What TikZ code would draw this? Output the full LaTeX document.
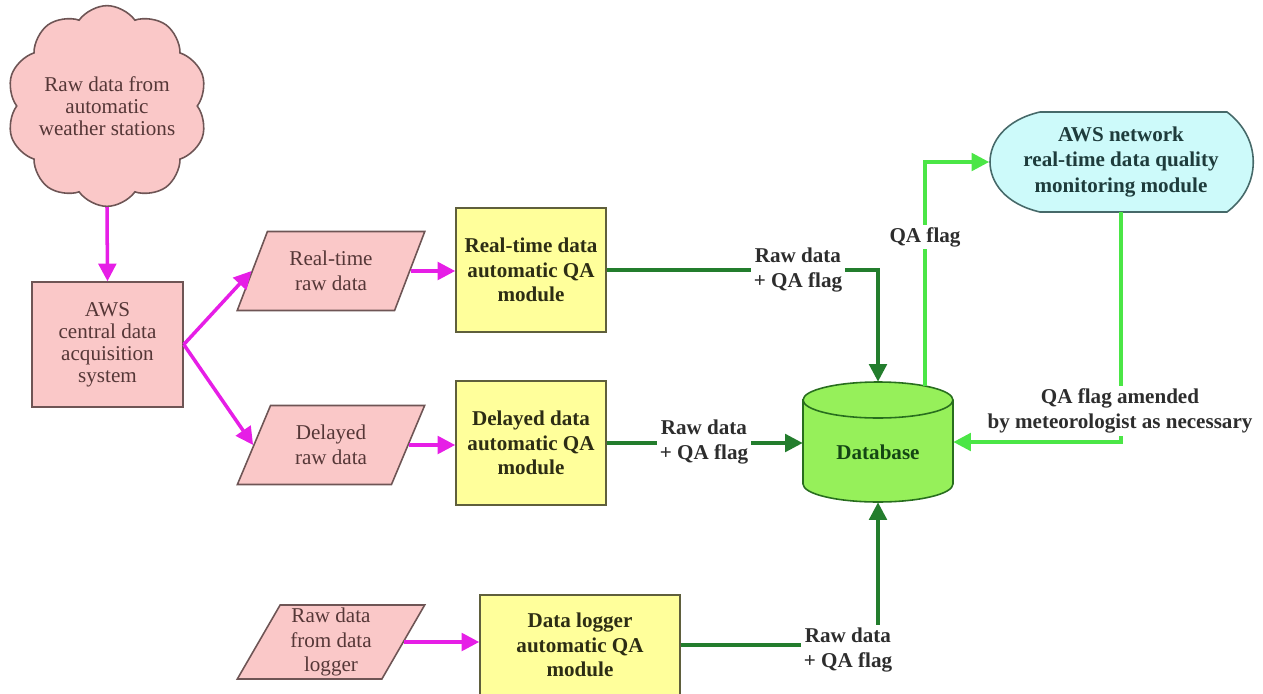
\documentclass[tikz,border=0pt]{standalone}
\usepackage{fontspec}
\setmainfont{Liberation Serif}
\usetikzlibrary{shapes.geometric,shapes.symbols,arrows.meta,calc}
\definecolor{pinkfill}{RGB}{250,200,200}
\definecolor{pinkline}{RGB}{110,85,85}
\definecolor{pinktext}{RGB}{85,55,55}
\definecolor{yfill}{RGB}{255,255,155}
\definecolor{yline}{RGB}{95,95,60}
\definecolor{ytext}{RGB}{45,45,20}
\definecolor{bfill}{RGB}{205,250,250}
\definecolor{bline}{RGB}{70,105,105}
\definecolor{btext}{RGB}{30,60,60}
\definecolor{dbfill}{RGB}{150,240,90}
\definecolor{dbline}{RGB}{40,110,30}
\definecolor{dbtext}{RGB}{20,70,20}
\definecolor{mag}{RGB}{230,30,230}
\definecolor{dgreen}{RGB}{35,125,45}
\definecolor{lgreen}{RGB}{75,230,70}
\definecolor{lbltext}{RGB}{45,45,45}
\begin{document}
\begin{tikzpicture}[x=0.02cm,y=-0.02cm,
  font=\fontsize{12}{14}\selectfont,
  pinkbox/.style={draw=pinkline,fill=pinkfill,line width=0.9pt,text=pinktext,align=center},
  para/.style={pinkbox,trapezium,trapezium left angle=63.4,trapezium right angle=116.6,
    trapezium stretches=true,minimum width=3.76cm,minimum height=1.58cm,inner sep=0pt},
  qabox/.style={draw=yline,fill=yfill,line width=0.9pt,text=ytext,align=center,
    font=\fontsize{12}{14}\selectfont\bfseries,minimum width=3cm,minimum height=2.48cm},
  lbl/.style={fill=white,text=lbltext,align=center,inner sep=1.5pt,
    font=\fontsize{12}{14}\selectfont\bfseries},
  magarrow/.style={draw=mag,line width=2pt,-{Triangle[length=10pt,width=10pt]}},
  dgarrow/.style={draw=dgreen,line width=2pt,-{Triangle[length=10pt,width=10pt]}},
  lgarrow/.style={draw=lgreen,line width=2pt,-{Triangle[length=10pt,width=10pt]}}]
\useasboundingbox (0,0) rectangle (1263,693);

% left column
\node[pinkbox,cloud,cloud puffs=10,cloud puff arc=110,aspect=1,
  minimum width=3.33cm,minimum height=3.33cm,inner sep=-2.5pt,
  font=\fontsize{12}{12.4}\selectfont] (cloud) at (107,106)
  {Raw data from\\automatic\\weather stations};
\node[pinkbox,minimum width=3.02cm,minimum height=2.5cm,
  font=\fontsize{12}{12.6}\selectfont] (aws) at (107.5,344.5)
  {AWS\\central data\\acquisition\\system};

% parallelograms
\node[para] (rt) at (331,271) {Real-time\\raw data};
\node[para] (dl) at (331,445) {Delayed\\raw data};
\node[para,minimum height=1.48cm] (lg) at (331,642) {Raw data\\from data\\logger};

% QA boxes
\node[qabox] (rtqa) at (531,270) {Real-time data\\automatic QA\\module};
\node[qabox] (dqa) at (531,443) {Delayed data\\automatic QA\\module};
\node[qabox,minimum width=4cm,minimum height=2cm] (lgqa) at (580,645) {Data logger\\automatic QA\\module};

% database cylinder
\node[minimum width=3cm,minimum height=2.4cm,inner sep=0pt] (db) at (878,442) {};
\path[fill=dbfill,draw=dbline,line width=0.9pt] (803,400) -- (803,484)
  arc[start angle=180,end angle=360,x radius=1.5cm,y radius=0.36cm]
  -- (953,400)
  arc[start angle=0,end angle=180,x radius=1.5cm,y radius=0.36cm] -- cycle;
\draw[dbline,line width=0.9pt] (803,400)
  arc[start angle=180,end angle=360,x radius=1.5cm,y radius=0.36cm];
\node[text=dbtext,font=\fontsize{12}{14}\selectfont\bfseries] (dbt) at (878,452) {Database};

% monitoring module
\path[fill=bfill,draw=bline,line width=0.9pt]
  (1040,112) -- (1227,112) .. controls (1262,138) and (1262,186) .. (1227,212)
  -- (1040,212) .. controls (1005,204) and (990,182) .. (990,162)
  .. controls (990,142) and (1005,120) .. cycle;
\node[minimum width=5.26cm,minimum height=2cm,inner sep=0pt,text=btext,align=center,
  font=\fontsize{12}{14.5}\selectfont\bfseries] (mon) at (1121,162)
  {AWS network\\real-time data quality\\monitoring module};

% magenta arrows
\draw[magarrow] (cloud.south) -- (aws.north);
\draw[magarrow] (aws.east) -- (rt.west);
\draw[magarrow] (aws.east) -- (dl.west);
\draw[magarrow] (rt.east) -- (rt.east -| rtqa.west);
\draw[magarrow] (dl.east) -- (dl.east -| dqa.west);
\draw[magarrow] (lg.east) -- (lg.east -| lgqa.west);

% dark green arrows
\draw[dgarrow] (rtqa.east) -| (db.north);
\draw[dgarrow] (dqa.east) -- (dqa.east -| db.west);
\draw[dgarrow] (lgqa.east) -| (db.south);

% light green arrows
\coordinate (dbq) at (925,386);
\draw[lgarrow] (dbq) |- (mon.west);
\draw[lgarrow] (mon.south) |- (db.east);

% labels
\node[lbl] (l1) at (798,270) {Raw data\\+ QA flag};
\node[lbl] (l2) at (704,442) {Raw data\\+ QA flag};
\node[lbl] (l3) at (848,650) {Raw data\\+ QA flag};
\node[lbl] (qaf) at (925,237) {QA flag};
\node[lbl] (l4) at (1120,411) {QA flag amended\\by meteorologist as necessary};
\end{tikzpicture}
\end{document}
